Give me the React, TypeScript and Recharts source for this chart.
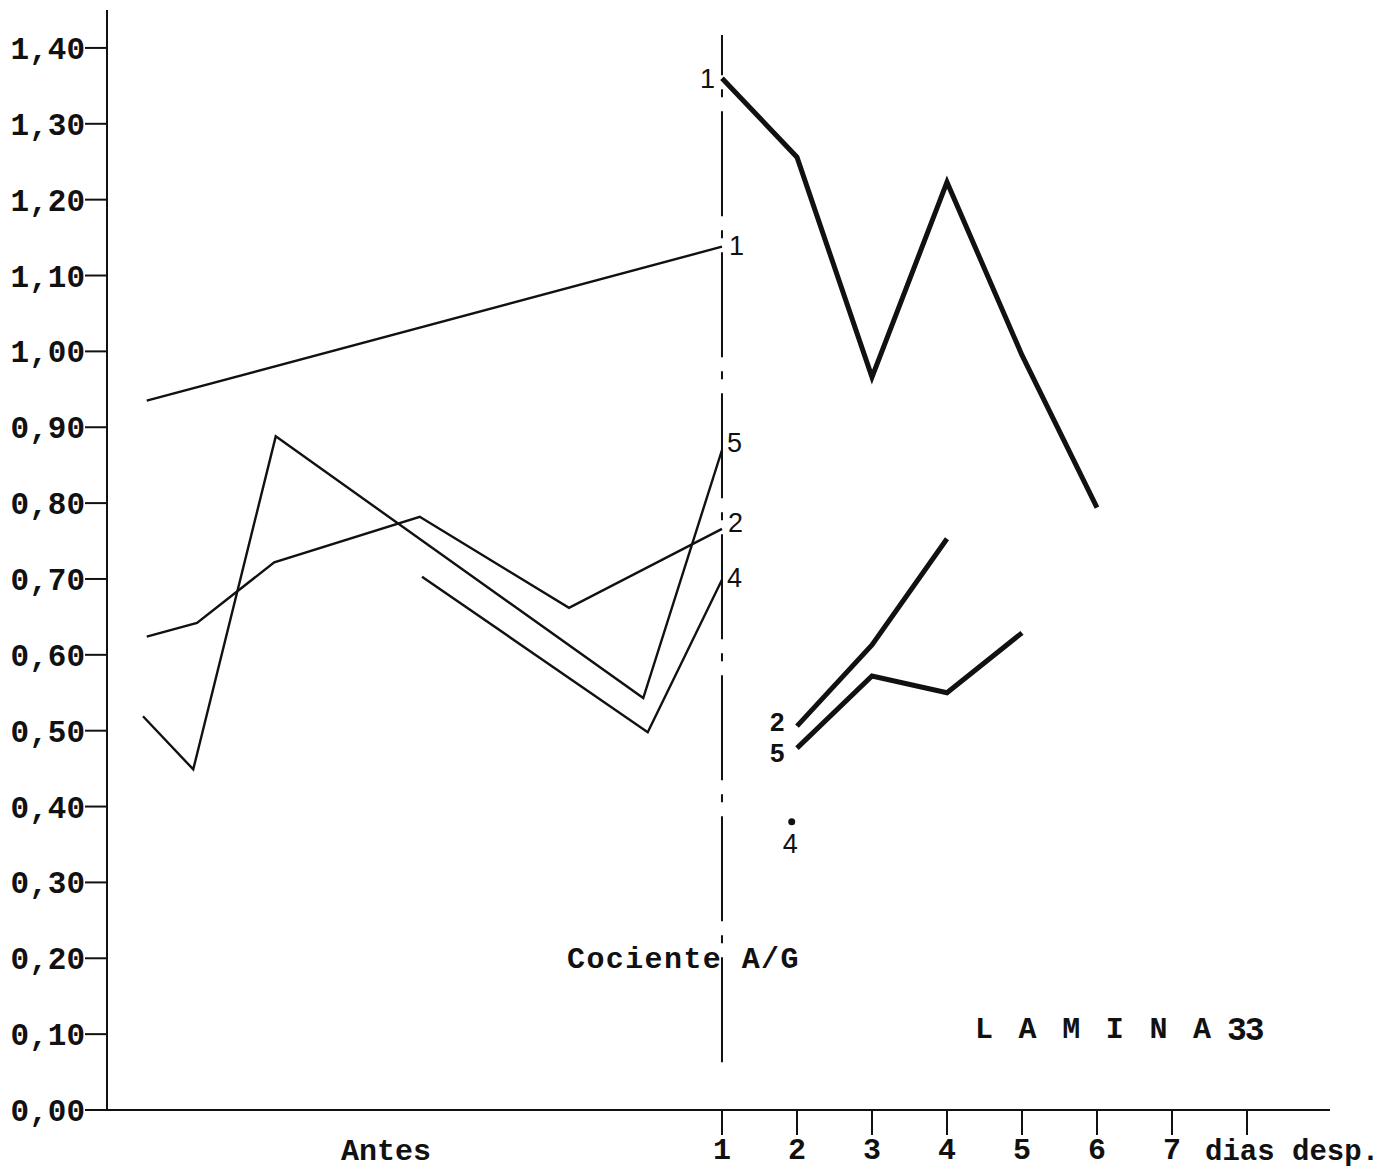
import { Line, LineChart, LabelList, ReferenceLine, XAxis, YAxis } from "recharts";

// cociente A/G, antes y después (días)
const yTicks = [0, 0.1, 0.2, 0.3, 0.4, 0.5, 0.6, 0.7, 0.8, 0.9, 1.0, 1.1, 1.2, 1.3, 1.4];
const dayTicks = [1, 2, 3, 4, 5, 6, 7, 8];

// antes: posición sobre el eje (día 1 = primer control) y valor
const antes1 = [
  { x: -6.67, y: 0.935 },
  { x: 1, y: 1.138 },
];
const antes5 = [
  { x: -6.72, y: 0.519 },
  { x: -6.05, y: 0.449 },
  { x: -4.95, y: 0.888 },
  { x: -0.05, y: 0.543 },
  { x: 1, y: 0.87 },
];
const antes2 = [
  { x: -6.67, y: 0.624 },
  { x: -6.0, y: 0.642 },
  { x: -4.97, y: 0.722 },
  { x: -3.03, y: 0.782 },
  { x: -1.04, y: 0.662 },
  { x: 1, y: 0.766 },
];
const antes4 = [
  { x: -3.0, y: 0.703 },
  { x: 0.01, y: 0.498 },
  { x: 1, y: 0.699 },
];

// después
const desp1 = [
  { x: 1, y: 1.36 },
  { x: 2, y: 1.256 },
  { x: 3, y: 0.966 },
  { x: 4, y: 1.223 },
  { x: 5, y: 0.995 },
  { x: 6, y: 0.794 },
];
const desp2 = [
  { x: 2, y: 0.506 },
  { x: 3, y: 0.613 },
  { x: 4, y: 0.753 },
];
const desp5 = [
  { x: 2, y: 0.477 },
  { x: 3, y: 0.572 },
  { x: 4, y: 0.55 },
  { x: 5, y: 0.629 },
];
const desp4 = [{ x: 1.93, y: 0.38 }];

const INK = "#111";
const MONO = "'Liberation Mono', 'DejaVu Sans Mono', monospace";
const SANS = "'Liberation Sans', Arial, sans-serif";

const fmtY = (v: number) => v.toFixed(2).replace(".", ",");
const fmtDay = (v: number) => (v <= 7 ? String(v) : "");

// número del caso junto a un punto concreto de la serie
function caseLabel(text: string, at: number, dx: number, dy: number, bold = false) {
  return (props: any) => {
    if (props.index !== at) return null;
    return (
      <text
        x={Number(props.x) + dx}
        y={Number(props.y) + dy}
        fontFamily={SANS}
        fontSize={bold ? 26 : 27}
        fontWeight={bold ? 700 : 400}
        fill={INK}
      >
        {text}
      </text>
    );
  };
}

const thin = { stroke: INK, strokeWidth: 2.4, dot: false, activeDot: false, isAnimationActive: false, type: "linear" as const };
const thick = { ...thin, strokeWidth: 5 };

export default function App() {
  return (
    <div style={{ position: "absolute", left: 0, top: 0, background: "#fff" }}>
      <LineChart width={1397} height={1170} margin={{ top: 10, right: 67, bottom: 0, left: 0 }}>
        <XAxis
          type="number"
          dataKey="x"
          domain={[-7.2, 9.107]}
          ticks={dayTicks}
          tickFormatter={fmtDay}
          allowDataOverflow
          height={60}
          tickSize={25}
          tickMargin={3}
          axisLine={{ stroke: INK, strokeWidth: 2 }}
          tickLine={{ stroke: INK, strokeWidth: 2 }}
          tick={{ fontFamily: MONO, fontSize: 30, fontWeight: 700, fill: INK }}
        />
        <YAxis
          type="number"
          dataKey="y"
          domain={[0, 1.45]}
          ticks={yTicks}
          tickFormatter={fmtY}
          allowDataOverflow
          width={107}
          tickSize={22}
          tickMargin={0}
          axisLine={{ stroke: INK, strokeWidth: 2 }}
          tickLine={{ stroke: INK, strokeWidth: 2 }}
          tick={{ fontFamily: MONO, fontSize: 31, fontWeight: 700, fill: INK }}
        />

        <ReferenceLine
          segment={[
            { x: 1, y: 0.063 },
            { x: 1, y: 1.417 },
          ]}
          stroke={INK}
          strokeWidth={2}
          strokeDasharray="105 14 8 14"
        />

        <Line data={antes1} dataKey="y" {...thin}>
          <LabelList dataKey="y" content={caseLabel("1", 1, 7, 8)} />
        </Line>
        <Line data={antes5} dataKey="y" {...thin}>
          <LabelList dataKey="y" content={caseLabel("5", 4, 5, 2)} />
        </Line>
        <Line data={antes2} dataKey="y" {...thin}>
          <LabelList dataKey="y" content={caseLabel("2", 5, 6, 3)} />
        </Line>
        <Line data={antes4} dataKey="y" {...thin}>
          <LabelList dataKey="y" content={caseLabel("4", 2, 5, 7)} />
        </Line>

        <Line data={desp1} dataKey="y" {...thick}>
          <LabelList dataKey="y" content={caseLabel("1", 0, -22, 10)} />
        </Line>
        <Line data={desp2} dataKey="y" {...thick}>
          <LabelList dataKey="y" content={caseLabel("2", 0, -27, 5, true)} />
        </Line>
        <Line data={desp5} dataKey="y" {...thick}>
          <LabelList dataKey="y" content={caseLabel("5", 0, -27, 14, true)} />
        </Line>
        <Line
          data={desp4}
          dataKey="y"
          {...thin}
          dot={{ r: 3.5, fill: INK, stroke: "none" }}
        >
          <LabelList dataKey="y" content={caseLabel("4", 0, -9, 31)} />
        </Line>

        <text x={567} y={968} fontFamily={MONO} fontSize={30} fontWeight={700} fill={INK} letterSpacing={1.4}>
          Cociente A/G
        </text>
        <text x={975} y={1038} fontFamily={MONO} fontSize={30} fontWeight={700} fill={INK} letterSpacing={3.8}>
          L A M I N A
        </text>
        <text x={1227} y={1040} fontFamily={MONO} fontSize={33} fontWeight={700} fill={INK} letterSpacing={-2}>
          33
        </text>
        <text x={386} y={1160} textAnchor="middle" fontFamily={MONO} fontSize={30} fontWeight={700} fill={INK}>
          Antes
        </text>
        <text x={1205} y={1160} fontFamily={MONO} fontSize={29} fontWeight={700} fill={INK}>
          dias desp.
        </text>
      </LineChart>
    </div>
  );
}
